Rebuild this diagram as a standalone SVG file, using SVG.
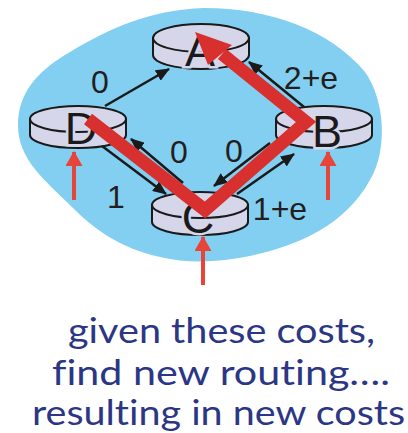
<svg xmlns="http://www.w3.org/2000/svg" width="408" height="433" viewBox="0 0 408 433">
<style>
.cyl{fill:#D6D6EA;stroke:#1a1a1a;stroke-width:2}
.let{font-family:"Liberation Sans",Arial,sans-serif;font-size:45px;fill:#1a1a1a;text-anchor:middle;stroke:#D6D6EA;stroke-width:5;paint-order:stroke}
.lbl{font-family:"Liberation Sans",Arial,sans-serif;font-size:32px;fill:#231F20;text-anchor:middle}
.edge{stroke:#1a1a1a;stroke-width:2.5;fill:none;marker-end:url(#ah)}
.up{stroke:#E8453A;stroke-width:4;fill:none;marker-end:url(#rh)}
.cap{font-family:Lato,"Open Sans",sans-serif;font-size:35px;fill:#2B3784;text-anchor:middle;font-variant-ligatures:none}
</style>
<defs>
<marker id="ah" markerUnits="userSpaceOnUse" viewBox="0 0 14 12" markerWidth="14" markerHeight="12" refX="13" refY="6" orient="auto"><path d="M0,0 L14,6 L0,12 z" fill="#1a1a1a"/></marker>
<marker id="rh" markerUnits="userSpaceOnUse" viewBox="0 0 15 17" markerWidth="15" markerHeight="17" refX="14" refY="8.5" orient="auto"><path d="M0,0 L15,8.5 L0,17 z" fill="#E8453A"/></marker>
</defs>
<path d="M204,8 C270,8 330,30 365,72 C385,100 388,150 370,180 C345,225 300,245 250,256 C220,262 190,264 160,257 C120,248 95,230 72,207 C45,180 18,160 18,125 C18,95 35,72 70,52 C110,28 150,10 204,8 Z" fill="#83CFF1"/>
<g id="node-A">
<path class="cyl" d="M153,38 L153,55 A48,14 0 0 0 249,55 L249,38 Z"/>
<ellipse class="cyl" cx="201" cy="38" rx="48" ry="14"/>
<text class="let" x="200" y="66">A</text>
</g>
<g id="node-D">
<path class="cyl" d="M30,119 L30,135 A48,13 0 0 0 126,135 L126,119 Z"/>
<ellipse class="cyl" cx="78" cy="119" rx="48" ry="13"/>
<text class="let" x="81" y="144">D</text>
</g>
<g id="node-B">
<path class="cyl" d="M276,119 L276,135 A48,13 0 0 0 372,135 L372,119 Z"/>
<ellipse class="cyl" cx="324" cy="119" rx="48" ry="13"/>
<text class="let" x="327" y="147">B</text>
</g>
<g id="node-C">
<path class="cyl" d="M152,205 L152,222 A48,13 0 0 0 248,222 L248,205 Z"/>
<ellipse class="cyl" cx="200" cy="205" rx="48" ry="13"/>
<text class="let" x="198" y="233">C</text>
</g>
<g id="connectors">
<line class="edge" x1="105" y1="106" x2="169" y2="69"/>
<line class="edge" x1="304" y1="107" x2="249" y2="62"/>
<line class="edge" x1="102" y1="146" x2="166" y2="194"/>
<line class="edge" x1="183" y1="183" x2="131" y2="139"/>
<line class="edge" x1="270" y1="143" x2="214" y2="186"/>
<line class="edge" x1="237" y1="194" x2="294" y2="154"/>
<polyline points="88,119 205,210 306,122 222,54" fill="none" stroke="#D8302F" stroke-width="13" stroke-linejoin="miter" stroke-miterlimit="10"/>
<polygon points="195,32 232,45 208,65" fill="#D8302F"/>
<line class="up" x1="74" y1="200" x2="74" y2="152"/>
<line class="up" x1="328" y1="200" x2="328" y2="152"/>
<line class="up" x1="203" y1="285" x2="203" y2="237"/>
</g>
<g id="labels">
<text class="lbl" x="100" y="93">0</text>
<text class="lbl" x="311" y="89">2+e</text>
<text class="lbl" x="179" y="163">0</text>
<text class="lbl" x="234" y="162">0</text>
<text class="lbl" x="116" y="208">1</text>
<text class="lbl" x="280" y="220">1+e</text>
</g>
<g id="caption">
<text class="cap" x="221.5" y="343" textLength="307" lengthAdjust="spacingAndGlyphs">given these costs,</text>
<text class="cap" x="221" y="385" textLength="338" lengthAdjust="spacingAndGlyphs">find new routing….</text>
<text class="cap" x="218.5" y="425" textLength="373" lengthAdjust="spacingAndGlyphs">resulting in new costs</text>
</g>
</svg>
